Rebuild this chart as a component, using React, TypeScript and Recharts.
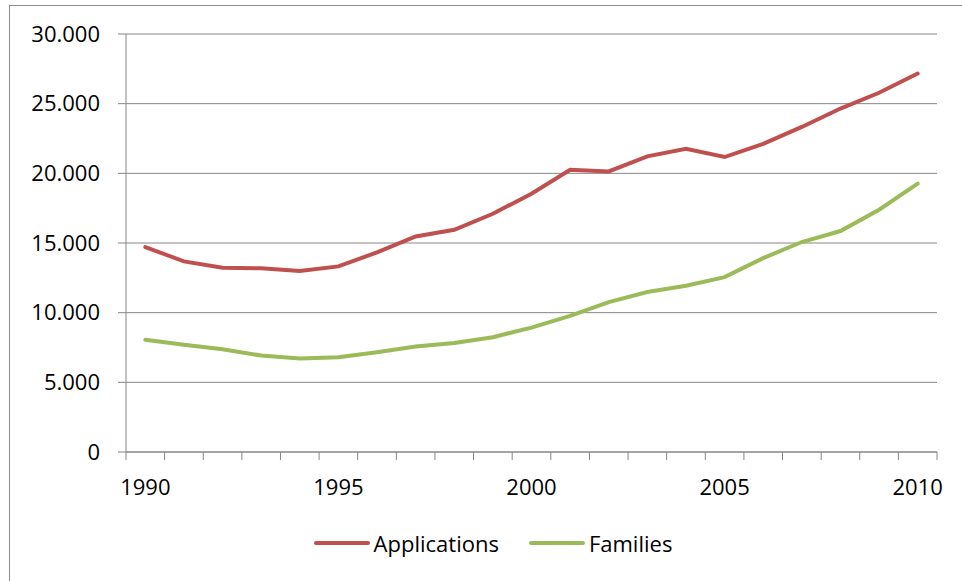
import React from 'react';
import { LineChart, Line, XAxis, YAxis, CartesianGrid, Legend } from 'recharts';

const years = [
  1990, 1991, 1992, 1993, 1994, 1995, 1996, 1997, 1998, 1999, 2000,
  2001, 2002, 2003, 2004, 2005, 2006, 2007, 2008, 2009, 2010
];
const applications = [
  14710, 13680, 13220, 13190, 12990, 13320, 14330, 15470, 15950, 17100, 18540,
  20260, 20140, 21220, 21770, 21170, 22110, 23330, 24650, 25780, 27160
];
const families = [
  8050, 7690, 7380, 6920, 6710, 6800, 7160, 7570, 7830, 8240, 8930,
  9770, 10760, 11480, 11930, 12550, 13920, 15070, 15860, 17390, 19260
];
const yTicks = [0, 5000, 10000, 15000, 20000, 25000, 30000];
const labelYears = [1990, 1995, 2000, 2005, 2010];

const RED = '#C0504D';
const GREEN = '#9BBB59';
const GRID = '#868686';
const FONT = '"Open Sans", sans-serif';

const data = years.map((year, i) => ({
  year,
  Applications: applications[i],
  Families: families[i]
}));

// tick marks sit on the category boundaries, labels on the category centres
const boundaries = [...years.map((y) => y - 0.5), years[years.length - 1] + 0.5];
const xTicks = [...boundaries, ...labelYears].sort((a, b) => a - b);

const formatThousands = (v: number) => String(v).replace(/\B(?=(\d{3})+(?!\d))/g, '.');

const XTick = (props: any) => {
  const { x, y, payload } = props;
  const v = payload.value as number;
  if (!Number.isInteger(v)) {
    return <line x1={x} y1={y} x2={x} y2={y + 8} stroke={GRID} strokeWidth={1} />;
  }
  return (
    <text x={x} y={y + 34} textAnchor="middle" dominantBaseline="central" fill="#000" fontSize={22} fontFamily={FONT}>
      {v}
    </text>
  );
};

const LegendContent = () => (
  <div
    style={{
      display: 'flex',
      justifyContent: 'center',
      alignItems: 'center',
      height: 60,
      paddingLeft: 39,
      boxSizing: 'border-box',
      fontFamily: FONT,
      fontSize: 22,
      color: '#000'
    }}
  >
    {[
      { name: 'Applications', color: RED },
      { name: 'Families', color: GREEN }
    ].map((item, i) => (
      <div key={item.name} style={{ display: 'flex', alignItems: 'center', marginLeft: i ? 30 : 0 }}>
        <svg width={56} height={8} style={{ marginRight: 4 }}>
          <line x1={2} y1={4} x2={54} y2={4} stroke={item.color} strokeWidth={4} strokeLinecap="round" />
        </svg>
        <span>{item.name}</span>
      </div>
    ))}
  </div>
);

export default function App() {
  return (
    <div
      style={{
        position: 'absolute',
        left: 9,
        top: 5,
        width: 960,
        height: 580,
        borderTop: '1px solid #8c8c8c',
        borderLeft: '1px solid #8c8c8c',
        background: '#fff'
      }}
    >
      <div style={{ position: 'absolute', left: 0, top: 1 }}>
        <LineChart width={950} height={566} data={data} margin={{ top: 27, right: 23, left: 0, bottom: 0 }}>
          <CartesianGrid vertical={false} stroke={GRID} strokeWidth={1} />
          <XAxis
            dataKey="year"
            type="number"
            domain={[1989.5, 2010.5]}
            ticks={xTicks}
            interval={0}
            tick={<XTick />}
            tickLine={false}
            tickSize={0}
            tickMargin={0}
            axisLine={{ stroke: GRID }}
            height={61}
          />
          <YAxis
            domain={[0, 30000]}
            ticks={yTicks}
            interval={0}
            width={116}
            tickFormatter={formatThousands}
            tickSize={8}
            tickMargin={18}
            tickLine={{ stroke: GRID }}
            axisLine={{ stroke: GRID }}
            tick={{ fill: '#000', fontSize: 22, fontFamily: FONT }}
          />
          <Legend verticalAlign="bottom" height={60} content={<LegendContent />} />
          <Line
            type="linear"
            dataKey="Applications"
            stroke={RED}
            strokeWidth={4}
            strokeLinecap="round"
            dot={false}
            isAnimationActive={false}
          />
          <Line
            type="linear"
            dataKey="Families"
            stroke={GREEN}
            strokeWidth={4}
            strokeLinecap="round"
            dot={false}
            isAnimationActive={false}
          />
        </LineChart>
      </div>
    </div>
  );
}
